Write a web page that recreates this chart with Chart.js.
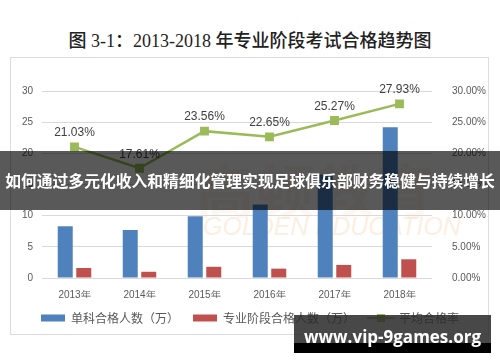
<!DOCTYPE html>
<html>
<head>
<meta charset="utf-8">
<script src="https://cdn.jsdelivr.net/npm/chart.js@4"></script>
<style>
  html, body { margin: 0; padding: 0; background: #fff; }
  #wrap { position: relative; width: 500px; height: 362px; overflow: hidden; }
  #title {
    position: absolute; left: 0; top: 26px; width: 500px; text-align: center;
    font: 500 18px "Liberation Serif", "Noto Sans CJK SC", serif; color: #222;
  }
  #frame { position: absolute; left: 10px; top: 57px; width: 477px; height: 276px; border: 1px solid #dcdcdc; }
  #wm1 { position: absolute; left: 196px; top: 146px; font: bold 58px "Noto Sans CJK SC"; color: rgba(240,190,140,0.12); letter-spacing: 2px; }
  #wm2 { position: absolute; left: 203px; top: 212px; font: italic 25px "Liberation Sans"; color: rgba(245,200,150,0.3); }
  canvas { position: absolute; left: 0; top: 0; }
  #banner {
    position: absolute; left: 0; top: 151px; width: 500px; height: 59px; background: rgba(0,0,0,0.65);
    color: #fff; font: bold 15.8px "Noto Sans CJK SC"; line-height: 59px; text-align: center; white-space: nowrap;
  }
  #site {
    position: absolute; left: 294px; top: 315px; width: 197px; height: 38px;
    background: linear-gradient(to bottom, rgba(40,40,40,0.85) 0, rgba(40,40,40,0.85) 73%, #000 73%, #000 100%);
    color: #fff; font: bold 17px "Open Sans"; text-align: center; line-height: 44px; white-space: nowrap;
  }
</style>
</head>
<body>
<div id="wrap">
  <div id="title">图 3-1：2013-2018 年专业阶段考试合格趋势图</div>
  <div id="frame"></div>
  <div id="wm1">高顿教育</div>
  <div id="wm2">GOLDEN EDUCATION</div>
  <canvas id="chart" width="500" height="362"></canvas>
  <div id="banner">如何通过多元化收入和精细化管理实现足球俱乐部财务稳健与持续增长</div>
  <div id="site">www.vip-9games.org</div>
</div>
<script>
// Данные графика
const years = ['2013年', '2014年', '2015年', '2016年', '2017年', '2018年'];
const singlePass = [8.3, 7.7, 9.9, 11.8, 16.6, 24.2];   // 单科合格人数（万）
const stagePass = [1.6, 1.0, 1.8, 1.5, 2.1, 3.0];       // 专业阶段合格人数（万）
const passRate = [21.03, 17.61, 23.56, 22.65, 25.27, 27.93]; // 平均合格率 %
const countTicks = { min: 0, max: 30, step: 5 };
const rateTicks = { min: 0, max: 30, step: 5 };

// Значок легенды для линии: отрезок с квадратным маркером
function lineLegendIcon() {
  const c = document.createElement('canvas');
  c.width = 28; c.height = 8;
  const g = c.getContext('2d');
  g.strokeStyle = '#9bbb59'; g.lineWidth = 2;
  g.beginPath(); g.moveTo(0, 4); g.lineTo(28, 4); g.stroke();
  g.fillStyle = '#9bbb59'; g.fillRect(10, 0, 8, 8);
  return c;
}

// Подписи значений над точками линии
const rateLabels = {
  id: 'rateLabels',
  afterDatasetsDraw(chart) {
    const ctx = chart.ctx;
    const meta = chart.getDatasetMeta(2);
    ctx.save();
    ctx.font = '12px "Liberation Sans"';
    ctx.fillStyle = '#404040';
    ctx.textAlign = 'center';
    ctx.textBaseline = 'middle';
    meta.data.forEach((pt, i) => {
      ctx.fillText(passRate[i].toFixed(2) + '%', pt.x, pt.y - 14);
    });
    ctx.restore();
  }
};

const tickFont = { family: '"Liberation Sans"', size: 10 };

new Chart(document.getElementById('chart'), {
  type: 'bar',
  data: {
    labels: years,
    datasets: [
      {
        label: '单科合格人数（万）',
        data: singlePass,
        backgroundColor: '#4f81bd',
        yAxisID: 'y',
        order: 1,
        barPercentage: 0.81,
        categoryPercentage: 0.57
      },
      {
        label: '专业阶段合格人数（万）',
        data: stagePass,
        backgroundColor: '#c0504d',
        yAxisID: 'y',
        order: 1,
        barPercentage: 0.81,
        categoryPercentage: 0.57
      },
      {
        type: 'line',
        label: '平均合格率',
        data: passRate,
        borderColor: '#9bbb59',
        backgroundColor: '#9bbb59',
        borderWidth: 2.5,
        pointStyle: 'rect',
        pointRadius: 4.5,
        pointHoverRadius: 4.5,
        tension: 0,
        yAxisID: 'y1',
        order: 0
      }
    ]
  },
  options: {
    responsive: false,
    animation: false,
    layout: { padding: { top: 91, left: 14, right: 14, bottom: 28 } },
    scales: {
      x: {
        grid: { display: false },
        border: { display: false },
        ticks: { color: '#595959', font: tickFont, padding: 3 },
        afterFit: s => { s.height = 20; }
      },
      y: {
        position: 'left',
        min: countTicks.min, max: countTicks.max,
        ticks: { stepSize: countTicks.step, color: '#595959', font: tickFont, padding: 9 },
        grid: { color: '#d9d9d9', drawTicks: false },
        border: { display: false },
        afterFit: s => { s.width = 28; }
      },
      y1: {
        position: 'right',
        min: rateTicks.min, max: rateTicks.max,
        ticks: {
          stepSize: rateTicks.step, color: '#595959', font: tickFont, padding: 12,
          callback: v => v.toFixed(2) + '%'
        },
        grid: { display: false },
        border: { display: false },
        afterFit: s => { s.width = 54; }
      }
    },
    plugins: {
      legend: {
        position: 'bottom',
        labels: {
          usePointStyle: true,
          pointStyleWidth: 24,
          boxHeight: 7,
          padding: 14,
          color: '#595959',
          font: { family: '"Noto Sans CJK SC"', size: 12 },
          sort: (a, b) => a.datasetIndex - b.datasetIndex,
          generateLabels(chart) {
            const items = Chart.defaults.plugins.legend.labels.generateLabels(chart);
            items.forEach(it => {
              it.pointStyle = it.datasetIndex === 2 ? lineLegendIcon() : 'rect';
              it.lineWidth = 0;
            });
            return items;
          }
        }
      },
      tooltip: { enabled: false }
    }
  },
  plugins: [rateLabels]
});
</script>
</body>
</html>
